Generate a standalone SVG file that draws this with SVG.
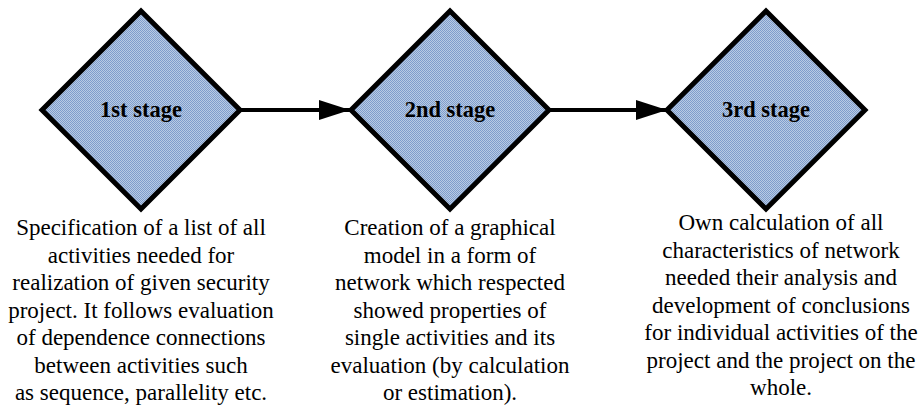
<svg xmlns="http://www.w3.org/2000/svg" width="923" height="408" viewBox="0 0 923 408">
<defs>
<pattern id="chk" width="2" height="2" patternUnits="userSpaceOnUse">
<rect width="2" height="2" fill="#b9cbe4"/>
<rect width="1" height="1" fill="#7f9dcc"/>
<rect x="1" y="1" width="1" height="1" fill="#7f9dcc"/>
</pattern>
<marker id="arr" markerWidth="32" markerHeight="20" refX="31" refY="10" orient="auto" markerUnits="userSpaceOnUse">
<path d="M0,0 L31,10 L0,20 Z" fill="#000"/>
</marker>
<style>
.dia{fill:url(#chk);stroke:#000;stroke-width:5;stroke-linejoin:miter}
.lbl{font-weight:bold;font-size:22.5px;text-anchor:middle;fill:#000}
.desc{font-size:23px;text-anchor:middle;fill:#000}
.con{stroke:#000;stroke-width:4;fill:none}
</style>
</defs>
<rect width="923" height="408" fill="#fff"/>
<g id="connectors">
<line class="con" x1="240" y1="110" x2="350" y2="110" marker-end="url(#arr)"/>
<line class="con" x1="549" y1="110" x2="667" y2="110" marker-end="url(#arr)"/>
</g>
<g font-family="'Liberation Serif', 'DejaVu Serif', serif">
<g id="stage1">
<polygon class="dia" points="141,11 240,110 141,209 42,110"/>
<text class="lbl" x="141" y="117">1st stage</text>
<text class="desc" x="141" y="235">Specification of a list of all</text>
<text class="desc" x="141" y="263">activities needed for</text>
<text class="desc" x="141" y="290">realization of given security</text>
<text class="desc" x="141" y="318">project. It follows evaluation</text>
<text class="desc" x="141" y="345">of dependence connections</text>
<text class="desc" x="141" y="373">between activities such</text>
<text class="desc" x="141" y="400">as sequence, parallelity etc.</text>
</g>
<g id="stage2">
<polygon class="dia" points="450,11 549,110 450,209 351,110"/>
<text class="lbl" x="450" y="117">2nd stage</text>
<text class="desc" x="450" y="235">Creation of a graphical</text>
<text class="desc" x="450" y="263">model in a form of</text>
<text class="desc" x="450" y="290">network which respected</text>
<text class="desc" x="450" y="318">showed properties of</text>
<text class="desc" x="450" y="345">single activities and its</text>
<text class="desc" x="450" y="373">evaluation (by calculation</text>
<text class="desc" x="450" y="400">or estimation).</text>
</g>
<g id="stage3">
<polygon class="dia" points="766,11 865,110 766,209 667,110"/>
<text class="lbl" x="766" y="117">3rd stage</text>
<text class="desc" x="781" y="230">Own calculation of all</text>
<text class="desc" x="781" y="258">characteristics of network</text>
<text class="desc" x="781" y="285">needed their analysis and</text>
<text class="desc" x="781" y="313">development of conclusions</text>
<text class="desc" x="781" y="340">for individual activities of the</text>
<text class="desc" x="781" y="368">project and the project on the</text>
<text class="desc" x="781" y="395">whole.</text>
</g>
</g>
</svg>
